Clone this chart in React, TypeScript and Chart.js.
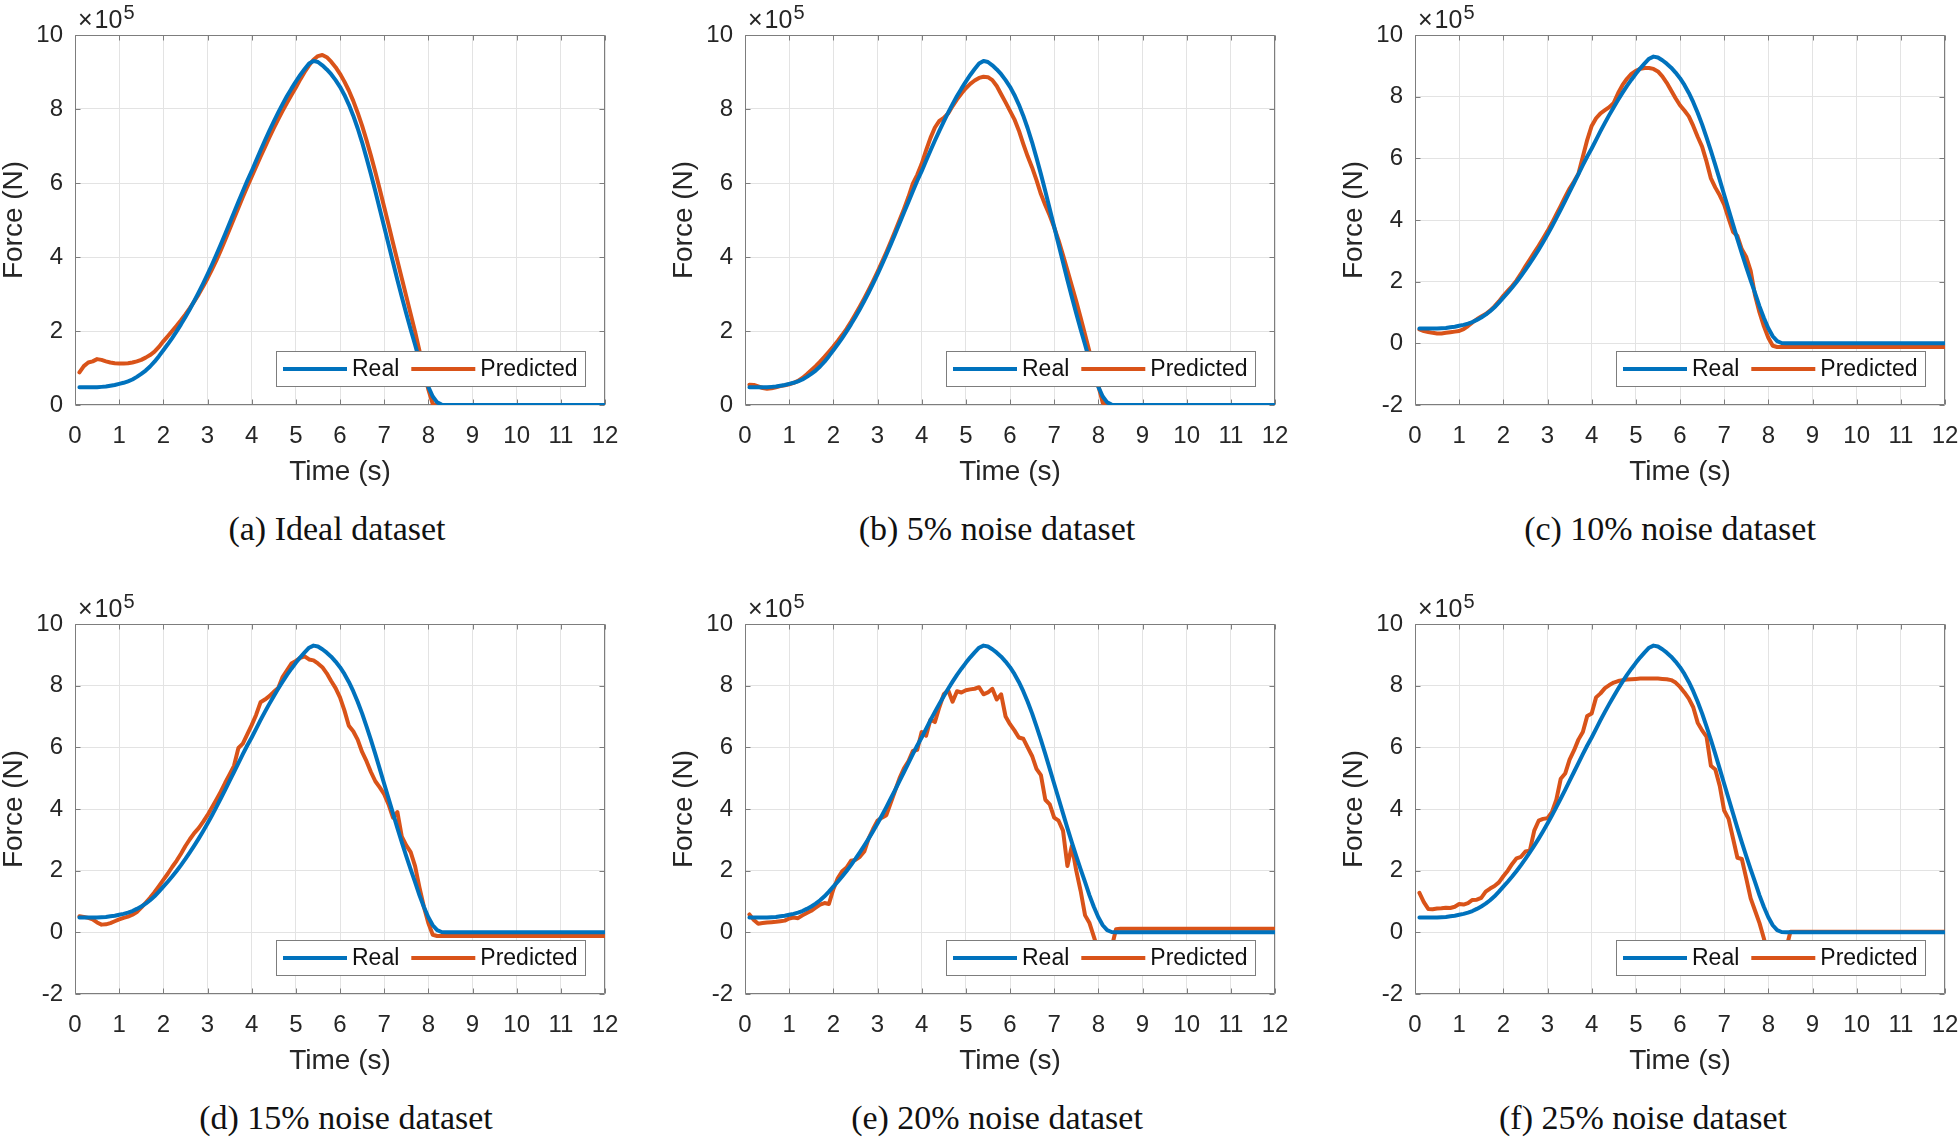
import React, { useEffect, useRef } from 'react';
import { Chart, registerables } from 'chart.js';

Chart.register(...registerables);

// ---------------- data (force values in units of 10^5 N) ----------------
const timeGrid = [
  0.1, 0.2, 0.3, 0.4, 0.5, 0.6, 0.7, 0.8, 0.9, 1.0,
  1.1, 1.2, 1.3, 1.4, 1.5, 1.6, 1.7, 1.8, 1.9, 2.0,
  2.1, 2.2, 2.3, 2.4, 2.5, 2.6, 2.7, 2.8, 2.9, 3.0,
  3.1, 3.2, 3.3, 3.4, 3.5, 3.6, 3.7, 3.8, 3.9, 4.0,
  4.1, 4.2, 4.3, 4.4, 4.5, 4.6, 4.7, 4.8, 4.9, 5.0,
  5.1, 5.2, 5.3, 5.4, 5.5, 5.6, 5.7, 5.8, 5.9, 6.0,
  6.1, 6.2, 6.3, 6.4, 6.5, 6.6, 6.7, 6.8, 6.9, 7.0,
  7.1, 7.2, 7.3, 7.4, 7.5, 7.6, 7.7, 7.8, 7.9, 8.0,
  8.1, 8.2, 8.3, 8.4, 8.5, 8.6,
  9, 10, 11, 12,
];

const realForce = [
  0.48, 0.48, 0.48, 0.48, 0.48, 0.49, 0.50, 0.52, 0.54, 0.57,
  0.60, 0.64, 0.69, 0.76, 0.84, 0.93, 1.04, 1.17, 1.32, 1.48,
  1.64, 1.81, 1.99, 2.18, 2.38, 2.59, 2.81, 3.04, 3.28, 3.53,
  3.79, 4.06, 4.34, 4.62, 4.91, 5.20, 5.49, 5.78, 6.06, 6.32,
  6.60, 6.88, 7.15, 7.41, 7.66, 7.90, 8.13, 8.35, 8.55, 8.74,
  8.92, 9.08, 9.23, 9.30, 9.27, 9.18, 9.07, 8.94, 8.78, 8.60,
  8.38, 8.12, 7.82, 7.48, 7.10, 6.68, 6.24, 5.78, 5.30, 4.82,
  4.34, 3.86, 3.38, 2.92, 2.47, 2.04, 1.63, 1.20, 0.82, 0.49,
  0.23, 0.07, 0.01, 0, 0, 0,
  0, 0, 0, 0,
];

const predIdeal = [
  0.88, 1.05, 1.15, 1.18, 1.24, 1.22, 1.18, 1.15, 1.13, 1.12,
  1.12, 1.13, 1.15, 1.18, 1.22, 1.28, 1.35, 1.44, 1.57, 1.72,
  1.86, 2.00, 2.14, 2.29, 2.45, 2.62, 2.80, 2.99, 3.20, 3.42,
  3.66, 3.91, 4.18, 4.46, 4.75, 5.04, 5.33, 5.62, 5.90, 6.17,
  6.44, 6.71, 6.97, 7.23, 7.48, 7.72, 7.95, 8.17, 8.38, 8.58,
  8.80, 9.00, 9.18, 9.33, 9.43, 9.46, 9.40, 9.28, 9.13, 8.95,
  8.74, 8.50, 8.22, 7.90, 7.55, 7.16, 6.74, 6.30, 5.83, 5.35,
  4.87, 4.38, 3.90, 3.42, 2.94, 2.46, 1.98, 1.46, 0.92, 0.42,
  0.03, 0, 0, 0, 0, 0,
  0, 0, 0, 0,
];

const pred5 = [
  0.55, 0.54, 0.50, 0.46, 0.44, 0.45, 0.48, 0.51, 0.53, 0.56,
  0.60, 0.65, 0.73, 0.83, 0.94, 1.05, 1.17, 1.30, 1.44, 1.58,
  1.73, 1.89, 2.06, 2.25, 2.45, 2.66, 2.88, 3.11, 3.35, 3.60,
  3.86, 4.13, 4.41, 4.70, 5.00, 5.30, 5.62, 5.98, 6.22, 6.52,
  6.88, 7.22, 7.50, 7.68, 7.76, 7.88, 8.08, 8.26, 8.42, 8.56,
  8.68, 8.77, 8.84, 8.87, 8.86, 8.78, 8.62, 8.40, 8.18, 7.95,
  7.72, 7.42, 7.06, 6.72, 6.42, 6.08, 5.70, 5.40, 5.12, 4.80,
  4.45, 4.05, 3.64, 3.22, 2.80, 2.36, 1.90, 1.44, 0.98, 0.52,
  0.06, 0, 0, 0, 0, 0,
  0, 0, 0, 0,
];

const pred10 = [
  0.45, 0.40, 0.37, 0.34, 0.32, 0.32, 0.34, 0.36, 0.38, 0.40,
  0.46, 0.56, 0.68, 0.78, 0.87, 0.95, 1.06, 1.20, 1.36, 1.54,
  1.70, 1.86, 2.04, 2.26, 2.50, 2.72, 2.94, 3.16, 3.40, 3.64,
  3.90, 4.18, 4.46, 4.75, 5.02, 5.25, 5.50, 6.05, 6.60, 7.05,
  7.30, 7.46, 7.56, 7.66, 7.80, 8.12, 8.38, 8.58, 8.74, 8.84,
  8.90, 8.93, 8.93, 8.90, 8.82, 8.66, 8.45, 8.20, 7.95, 7.72,
  7.55, 7.36, 7.05, 6.70, 6.38, 5.90, 5.35, 5.05, 4.80, 4.50,
  4.05, 3.62, 3.48, 3.05, 2.80, 2.35, 1.55, 1.00, 0.55, 0.18,
  -0.08, -0.12, -0.12, -0.12, -0.12, -0.12,
  -0.12, -0.12, -0.12, -0.12,
];

const pred15 = [
  0.52, 0.50, 0.47, 0.42, 0.32, 0.25, 0.26, 0.30, 0.36, 0.42,
  0.47, 0.51, 0.57, 0.66, 0.80, 0.96, 1.12, 1.30, 1.50, 1.70,
  1.90, 2.12, 2.32, 2.55, 2.80, 3.02, 3.22, 3.38, 3.58, 3.80,
  4.05, 4.30, 4.56, 4.85, 5.12, 5.40, 5.98, 6.12, 6.42, 6.72,
  7.05, 7.46, 7.55, 7.66, 7.80, 7.92, 8.28, 8.50, 8.72, 8.80,
  8.90, 8.95, 8.85, 8.82, 8.72, 8.60, 8.40, 8.15, 7.92, 7.62,
  7.20, 6.70, 6.52, 6.25, 5.85, 5.55, 5.20, 4.90, 4.70, 4.48,
  4.15, 3.72, 3.90, 3.10, 2.82, 2.60, 2.15, 1.45, 0.82, 0.30,
  -0.08, -0.12, -0.12, -0.12, -0.12, -0.12,
  -0.12, -0.12, -0.12, -0.12,
];

const pred20 = [
  0.58, 0.40, 0.28, 0.30, 0.32, 0.33, 0.34, 0.36, 0.38, 0.45,
  0.48, 0.46, 0.55, 0.63, 0.70, 0.80, 0.90, 0.95, 0.92, 1.40,
  1.75, 1.98, 2.10, 2.32, 2.35, 2.45, 2.62, 3.05, 3.35, 3.62,
  3.72, 3.80, 4.20, 4.60, 5.00, 5.32, 5.55, 5.88, 5.92, 6.50,
  6.38, 6.90, 6.82, 7.30, 7.72, 7.85, 7.48, 7.82, 7.78, 7.85,
  7.88, 7.90, 7.95, 7.72, 7.78, 7.90, 7.55, 7.72, 7.00, 6.75,
  6.55, 6.32, 6.28, 6.00, 5.72, 5.30, 5.10, 4.30, 4.15, 3.72,
  3.62, 3.30, 2.15, 2.80, 2.00, 1.34, 0.55, 0.30, -0.15, -0.60,
  -0.70, -0.70, -0.50, 0.10, 0.12, 0.12,
  0.12, 0.12, 0.12, 0.12,
];

const pred25 = [
  1.28, 0.98, 0.76, 0.75, 0.77, 0.78, 0.80, 0.79, 0.83, 0.92,
  0.90, 0.95, 1.05, 1.06, 1.12, 1.32, 1.42, 1.50, 1.62, 1.82,
  2.00, 2.22, 2.40, 2.45, 2.62, 2.65, 3.30, 3.62, 3.68, 3.70,
  3.90, 4.30, 4.98, 5.15, 5.60, 5.90, 6.25, 6.50, 7.02, 7.10,
  7.62, 7.75, 7.92, 8.02, 8.10, 8.15, 8.18, 8.20, 8.21, 8.22,
  8.23, 8.23, 8.23, 8.23, 8.23, 8.22, 8.21, 8.18, 8.10, 7.96,
  7.78, 7.58, 7.30, 6.80, 6.55, 6.35, 5.40, 5.28, 4.75, 3.95,
  3.68, 3.05, 2.42, 2.38, 1.75, 1.10, 0.70, 0.30, -0.20, -0.80,
  -0.90, -0.90, -0.80, -0.55, 0.02, 0.02,
  0.02, 0.02, 0.02, 0.02,
];

const predictedSeries = [predIdeal, pred5, pred10, pred15, pred20, pred25];
const captions = [
  '(a) Ideal dataset',
  '(b) 5% noise dataset',
  '(c) 10% noise dataset',
  '(d) 15% noise dataset',
  '(e) 20% noise dataset',
  '(f) 25% noise dataset',
];
const yAxisMin = [0, 0, -2, -2, -2, -2];
const yAxisMax = 10;
const xAxisMin = 0;
const xAxisMax = 12;
const seriesNames = ['Real', 'Predicted'];

// ---------------- styles & layout ----------------
const SANS = '"Liberation Sans", Arial, Helvetica, sans-serif';
const SERIF = '"Liberation Serif", "Times New Roman", serif';
const TEXT = '#262626';
const AXIS = '#7d7d7d';
const GRID = '#e3e3e3';
const BLUE = '#0072BD';
const ORANGE = '#D95319';
const LINE_W = 4;

const PLOT_W = 530;
const PLOT_H = 370;
const Y_AXIS_W = 75;
const X_AXIS_H = 81;
const PAD_TOP = 35;
const PAD_RIGHT = 60;
const CANVAS_W = Y_AXIS_W + PLOT_W + PAD_RIGHT;
const CANVAS_H = PAD_TOP + PLOT_H + X_AXIS_H;
const colLeft = [0, 670, 1340];
const rowTop = [0, 589];
const captionCenterX = [337, 997, 1670, 346, 997, 1643];
const captionBaseline = [540, 1129];

const matlabAxesPlugin = {
  id: 'matlabAxes',
  beforeDatasetsDraw(chart: any) {
    const { ctx, chartArea: a, scales } = chart;
    ctx.save();
    ctx.strokeStyle = AXIS;
    ctx.lineWidth = 1;
    const L = Math.round(a.left) + 0.5;
    const R = Math.round(a.right) - 0.5;
    const T = Math.round(a.top) + 0.5;
    const B = Math.round(a.bottom) - 0.5;
    ctx.beginPath();
    ctx.rect(L, T, R - L, B - T);
    const TL = 5;
    for (const t of scales.x.ticks) {
      const px = Math.round(scales.x.getPixelForValue(t.value)) + 0.5;
      ctx.moveTo(px, B);
      ctx.lineTo(px, B - TL);
      ctx.moveTo(px, T);
      ctx.lineTo(px, T + TL);
    }
    for (const t of scales.y.ticks) {
      const py = Math.round(scales.y.getPixelForValue(t.value)) + 0.5;
      ctx.moveTo(L, py);
      ctx.lineTo(L + TL, py);
      ctx.moveTo(R, py);
      ctx.lineTo(R - TL, py);
    }
    ctx.stroke();
    ctx.restore();
  },
  afterDatasetsDraw(chart: any) {
    const { ctx, chartArea: a } = chart;
    ctx.save();
    ctx.fillStyle = TEXT;
    ctx.textAlign = 'left';
    ctx.textBaseline = 'alphabetic';
    let x = a.left + 3;
    const y = a.top - 7;
    ctx.font = `25px ${SANS}`;
    ctx.fillText('\u00d7', x, y);
    x += ctx.measureText('\u00d7').width + 2;
    ctx.fillText('10', x, y);
    x += ctx.measureText('10').width + 1;
    ctx.font = `20px ${SANS}`;
    ctx.fillText('5', x, y - 9);

    const LEG_H = 36;
    const SAMPLE = 64;
    ctx.font = `23px ${SANS}`;
    const items = chart.data.datasets.map((ds: any) => ({
      label: ds.label,
      color: ds.borderColor,
      w: ctx.measureText(ds.label).width,
    }));
    let total = 7 + 9;
    items.forEach((it: any, i: number) => {
      total += SAMPLE + 5 + it.w + (i < items.length - 1 ? 12 : 0);
    });
    const right = Math.round(a.right - 19);
    const bottom = Math.round(a.bottom - 18);
    const left = right - Math.round(total);
    const top = bottom - LEG_H;
    ctx.fillStyle = '#ffffff';
    ctx.fillRect(left, top, right - left, LEG_H);
    ctx.strokeStyle = AXIS;
    ctx.lineWidth = 1;
    ctx.strokeRect(left + 0.5, top + 0.5, right - left - 1, LEG_H - 1);
    let lx = left + 7;
    const cy = top + LEG_H / 2;
    ctx.textBaseline = 'middle';
    items.forEach((it: any) => {
      ctx.strokeStyle = it.color;
      ctx.lineWidth = LINE_W;
      ctx.beginPath();
      ctx.moveTo(lx, cy);
      ctx.lineTo(lx + SAMPLE, cy);
      ctx.stroke();
      lx += SAMPLE + 5;
      ctx.fillStyle = '#111111';
      ctx.fillText(it.label, lx, cy + 1);
      lx += it.w + 12;
    });
    ctx.restore();
  },
};

function toPoints(values: number[]) {
  return timeGrid.map((t, i) => ({ x: t, y: values[i] }));
}

function Panel({ index }: { index: number }) {
  const ref = useRef<HTMLCanvasElement | null>(null);
  const col = index % 3;
  const row = Math.floor(index / 3);

  useEffect(() => {
    if (!ref.current) return;
    const tickFont = { family: SANS, size: 24, lineHeight: 1.2 };
    const titleFont = { family: SANS, size: 28, lineHeight: 1 };
    const lineStyle = {
      borderWidth: LINE_W,
      pointRadius: 0,
      tension: 0,
      fill: false,
      borderJoinStyle: 'round',
      borderCapStyle: 'round',
    };
    const chart = new Chart(ref.current, {
      type: 'line',
      data: {
        datasets: [
          {
            label: seriesNames[0],
            data: toPoints(realForce),
            borderColor: BLUE,
            backgroundColor: BLUE,
            ...lineStyle,
          },
          {
            label: seriesNames[1],
            data: toPoints(predictedSeries[index]),
            borderColor: ORANGE,
            backgroundColor: ORANGE,
            ...lineStyle,
          },
        ],
      },
      options: {
        animation: false,
        responsive: false,
        maintainAspectRatio: false,
        devicePixelRatio: 1,
        events: [],
        layout: { padding: { left: 0, top: PAD_TOP, right: PAD_RIGHT, bottom: 0 } },
        plugins: {
          legend: { display: false },
          tooltip: { enabled: false },
          title: { display: false },
        },
        scales: {
          x: {
            type: 'linear',
            min: xAxisMin,
            max: xAxisMax,
            ticks: {
              stepSize: 1,
              autoSkip: false,
              maxRotation: 0,
              minRotation: 0,
              maxTicksLimit: 20,
              padding: 17,
              color: TEXT,
              font: tickFont,
            },
            grid: { color: GRID, lineWidth: 1, drawTicks: false },
            border: { display: false },
            title: { display: true, text: 'Time (s)', color: TEXT, padding: 0, font: titleFont },
            afterFit: (s: any) => {
              s.height = X_AXIS_H;
            },
          },
          y: {
            type: 'linear',
            min: yAxisMin[index],
            max: yAxisMax,
            ticks: {
              stepSize: 2,
              padding: 12,
              maxTicksLimit: 20,
              color: TEXT,
              font: tickFont,
            },
            grid: { color: GRID, lineWidth: 1, drawTicks: false },
            border: { display: false },
            title: { display: true, text: 'Force (N)', color: TEXT, padding: 0, font: titleFont },
            afterFit: (s: any) => {
              s.width = Y_AXIS_W;
            },
          },
        },
      } as any,
      plugins: [matlabAxesPlugin],
    } as any);
    return () => chart.destroy();
  }, [index]);

  return (
    <canvas
      ref={ref}
      width={CANVAS_W}
      height={CANVAS_H}
      style={{
        position: 'absolute',
        left: colLeft[col],
        top: rowTop[row],
        width: CANVAS_W,
        height: CANVAS_H,
      }}
    />
  );
}

export default function App() {
  return (
    <div
      style={{
        position: 'fixed',
        left: 0,
        top: 0,
        width: 1959,
        height: 1142,
        overflow: 'hidden',
        background: '#ffffff',
      }}
    >
      {captions.map((_, i) => (
        <Panel key={i} index={i} />
      ))}
      {captions.map((c, i) => (
        <div
          key={'cap' + i}
          style={{
            position: 'absolute',
            left: captionCenterX[i],
            top: captionBaseline[Math.floor(i / 3)] - 28.5,
            transform: 'translateX(-50%)',
            whiteSpace: 'nowrap',
            fontFamily: SERIF,
            fontSize: 34,
            lineHeight: '34px',
            color: '#111111',
          }}
        >
          {c}
        </div>
      ))}
    </div>
  );
}
